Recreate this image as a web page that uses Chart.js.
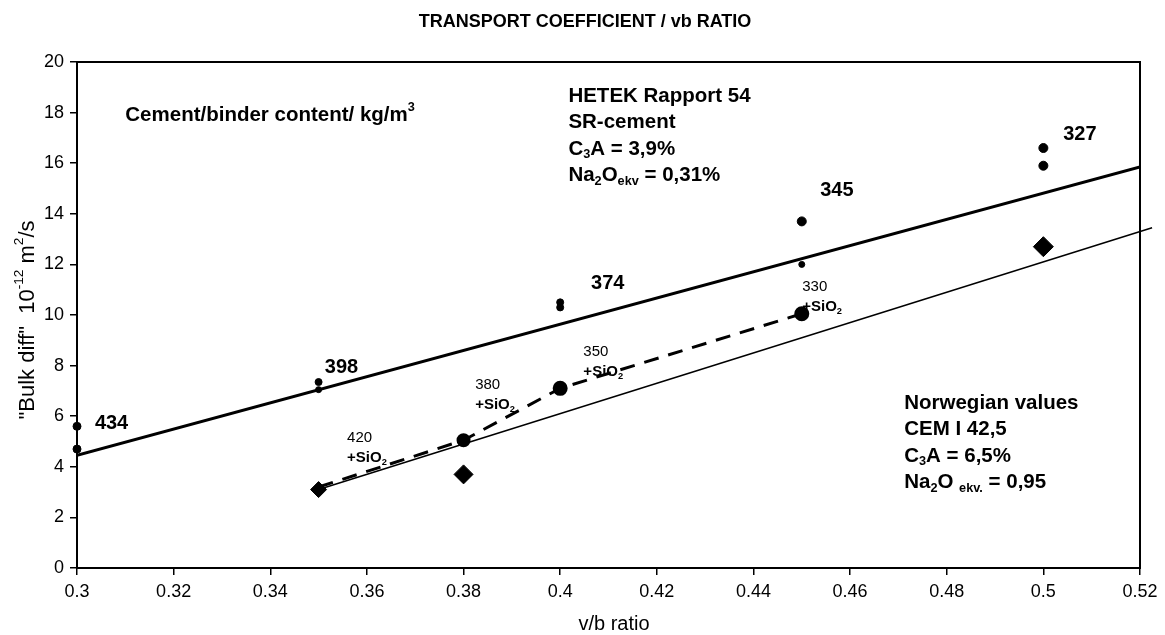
<!DOCTYPE html>
<html>
<head>
<meta charset="utf-8">
<script src="https://cdn.jsdelivr.net/npm/chart.js@4/dist/chart.umd.min.js"></script>
<style>
  html, body { margin: 0; padding: 0; background: #fff; }
</style>
</head>
<body>
<canvas id="chart" width="1165" height="635"></canvas>
<script>
// v/b ratio axis ticks
const xTicks = [0.3, 0.32, 0.34, 0.36, 0.38, 0.4, 0.42, 0.44, 0.46, 0.48, 0.5, 0.52];

// HETEK Rapport 54, SR-cement measurements
const hetekX = [0.3, 0.3, 0.35, 0.35, 0.4, 0.4, 0.45, 0.45, 0.5, 0.5];
const hetekY = [5.6, 4.7, 7.35, 7.05, 10.5, 10.3, 13.7, 12.0, 16.6, 15.9];

// trend line through the HETEK values
const hetekFitX = [0.3, 0.52];
const hetekFitY = [4.45, 15.85];

// Norwegian values, CEM I 42,5
const norwayX = [0.35, 0.38, 0.5];
const norwayY = [3.1, 3.7, 12.7];

const norwayFitX = [0.35, 0.5225];
const norwayFitY = [3.1, 13.45];

// binder with silica fume (dashed)
const silicaX = [0.35, 0.38, 0.4, 0.45];
const silicaY = [3.2, 5.05, 7.1, 10.05];

const pts = (xs, ys) => xs.map((x, i) => ({ x, y: ys[i] }));

const FONT = '"Liberation Sans", Arial, Helvetica, sans-serif';

// draw a run of text pieces with sub/superscripts
function drawRuns(ctx, runs, x, y, size, weight) {
  let cx = x;
  runs.forEach(([t, mode]) => {
    const s = mode ? size * 0.62 : size;
    const dy = mode === 'sub' ? size * 0.28 : mode === 'sup' ? -size * 0.38 : 0;
    ctx.font = `${weight} ${s}px ${FONT}`;
    ctx.fillText(t, cx, y + dy);
    cx += ctx.measureText(t).width;
  });
  return cx - x;
}

function runsWidth(ctx, runs, size, weight) {
  let w = 0;
  runs.forEach(([t, mode]) => {
    const s = mode ? size * 0.62 : size;
    ctx.font = `${weight} ${s}px ${FONT}`;
    w += ctx.measureText(t).width;
  });
  return w;
}

const textPlugin = {
  id: 'texts',
  afterDraw(chart) {
    const { ctx, chartArea, scales } = chart;
    const X = v => scales.x.getPixelForValue(v);
    const Y = v => scales.y.getPixelForValue(v);
    ctx.save();
    ctx.fillStyle = '#000';
    ctx.strokeStyle = '#000';

    // plot frame (top / right)
    ctx.lineWidth = 2;
    ctx.strokeRect(chartArea.left, chartArea.top, chartArea.right - chartArea.left, chartArea.bottom - chartArea.top);

    ctx.textBaseline = 'middle';

    // title and x axis title
    ctx.textAlign = 'center';
    ctx.font = `bold 18px ${FONT}`;
    ctx.fillText('TRANSPORT COEFFICIENT / vb RATIO', 585, 22);
    ctx.font = `20px ${FONT}`;
    ctx.fillText('v/b ratio', 614, 624);
    ctx.textAlign = 'left';

    // y axis title, rotated
    const yRuns = [['"Bulk diff"  10', ''], ['-12', 'sup'], [' m', ''], ['2', 'sup'], ['/s', '']];
    ctx.save();
    ctx.translate(28, 320);
    ctx.rotate(-Math.PI / 2);
    const yw = runsWidth(ctx, yRuns, 22, 'normal');
    drawRuns(ctx, yRuns, -yw / 2, 0, 22, 'normal');
    ctx.restore();

    // text blocks
    const blocks = [
      { x: 0.31, y: 17.9, lines: [[['Cement/binder content/ kg/m', ''], ['3', 'sup']]] },
      { x: 0.4017, y: 18.66, step: 1.05, lines: [
        [['HETEK Rapport 54', '']],
        [['SR-cement', '']],
        [['C', ''], ['3', 'sub'], ['A = 3,9%', '']],
        [['Na', ''], ['2', 'sub'], ['O', ''], ['ekv', 'sub'], [' = 0,31%', '']],
      ] },
      { x: 0.4712, y: 6.52, step: 1.05, lines: [
        [['Norwegian values', '']],
        [['CEM I 42,5', '']],
        [['C', ''], ['3', 'sub'], ['A = 6,5%', '']],
        [['Na', ''], ['2', 'sub'], ['O ', ''], ['ekv.', 'sub'], [' = 0,95', '']],
      ] },
    ];
    blocks.forEach(b => {
      b.lines.forEach((runs, i) => {
        drawRuns(ctx, runs, X(b.x), Y(b.y - i * (b.step || 0)), 20.5, 'bold');
      });
    });

    // binder contents
    const contents = [
      ['434', 0.3037, 5.73], ['398', 0.3513, 7.94], ['374', 0.4064, 11.26],
      ['345', 0.4538, 14.94], ['327', 0.5041, 17.15],
    ];
    ctx.font = `bold 20px ${FONT}`;
    contents.forEach(([t, x, y]) => ctx.fillText(t, X(x), Y(y)));

    const silica = [
      ['420', 0.3559, 5.14], ['380', 0.3824, 7.23], ['350', 0.4048, 8.54], ['330', 0.4501, 11.1],
    ];
    silica.forEach(([t, x, y]) => {
      ctx.font = `15px ${FONT}`;
      ctx.fillText(t, X(x), Y(y));
      drawRuns(ctx, [['+SiO', ''], ['2', 'sub']], X(x), Y(y - 0.79), 15, 'bold');
    });

    ctx.restore();
  }
};

new Chart(document.getElementById('chart'), {
  type: 'scatter',
  data: {
    datasets: [
      {
        label: 'HETEK fit',
        data: pts(hetekFitX, hetekFitY),
        showLine: true,
        borderColor: '#000',
        borderWidth: 3,
        pointRadius: 0,
      },
      {
        label: 'Norwegian fit',
        data: pts(norwayFitX, norwayFitY),
        showLine: true,
        borderColor: '#000',
        borderWidth: 1.5,
        pointRadius: 0,
        clip: false,
      },
      {
        label: 'SiO2',
        data: pts(silicaX, silicaY),
        showLine: true,
        borderColor: '#000',
        borderWidth: 3,
        borderDash: [15, 10],
        pointRadius: [0, 5.5, 6, 6],
        backgroundColor: '#000',
        pointBorderColor: '#000',
      },
      {
        label: 'HETEK',
        data: pts(hetekX, hetekY),
        pointRadius: [4, 4, 3.5, 3, 3.5, 3.5, 4.5, 3, 4.5, 4.5],
        backgroundColor: '#000',
        borderColor: '#000',
        clip: false,
      },
      {
        label: 'Norwegian',
        data: pts(norwayX, norwayY),
        pointStyle: 'rectRot',
        pointRadius: [8, 9.5, 10],
        backgroundColor: '#000',
        borderColor: '#000',
      },
    ],
  },
  options: {
    responsive: false,
    animation: false,
    devicePixelRatio: 1,
    layout: { padding: { top: 62, right: 25, left: 0, bottom: 0 } },
    plugins: {
      legend: { display: false },
      tooltip: { enabled: false },
      title: { display: false },
    },
    scales: {
      x: {
        type: 'linear',
        min: 0.3,
        max: 0.52,
        afterBuildTicks: scale => { scale.ticks = xTicks.map(v => ({ value: v })); },
        afterFit: scale => { scale.height = 67; },
        grid: { drawOnChartArea: false, drawTicks: true, tickLength: 7, color: '#000', lineWidth: 1.5 },
        border: { display: true, color: '#000', width: 2 },
        ticks: {
          color: '#000',
          font: { size: 18, family: FONT },
          padding: 6,
          maxRotation: 0,
          autoSkip: false,
          callback: v => String(+v.toFixed(2)),
        },
      },
      y: {
        min: 0,
        max: 20,
        afterFit: scale => { scale.width = 77; },
        grid: { drawOnChartArea: false, drawTicks: true, tickLength: 7, color: '#000', lineWidth: 1.5 },
        border: { display: true, color: '#000', width: 2 },
        ticks: {
          stepSize: 2,
          color: '#000',
          font: { size: 18, family: FONT },
          padding: 6,
        },
      },
    },
  },
  plugins: [textPlugin],
});
</script>
</body>
</html>
